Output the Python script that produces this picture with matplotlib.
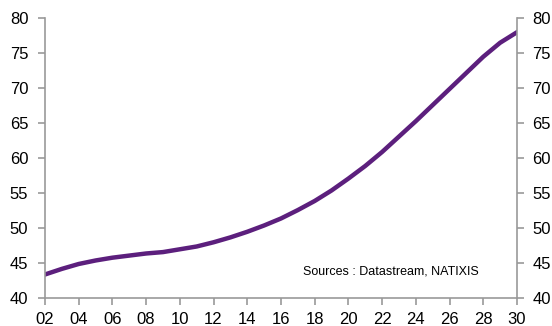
import matplotlib.pyplot as plt

plt.rcParams['font.family'] = ['Liberation Sans', 'DejaVu Sans']

years = list(range(2002, 2031))
values = [43.4, 44.2, 44.9, 45.4, 45.8, 46.1, 46.4, 46.6, 47.0, 47.4,
          48.0, 48.7, 49.5, 50.4, 51.4, 52.6, 53.9, 55.4, 57.1, 58.9,
          60.9, 63.1, 65.3, 67.6, 69.9, 72.2, 74.5, 76.5, 78.0]
xticks = list(range(2002, 2031, 2))
xlabels = ['%02d' % (y % 100) for y in xticks]
yticks = list(range(40, 81, 5))

fig = plt.figure(figsize=(5.52, 3.26), dpi=100)
ax = fig.add_axes([0.0815, 0.085, 0.855, 0.859])
ax.plot(years, values, color='#5c1f7d', lw=3.2)

ax.set_xlim(2002, 2030)
ax.set_ylim(40, 80)
ax.set_xticks(xticks)
ax.set_xticklabels(xlabels)
ax.set_yticks(yticks)

ax2 = ax.twinx()
ax2.set_ylim(40, 80)
ax2.set_yticks(yticks)

for a in (ax, ax2):
    a.spines['top'].set_visible(False)
    for s in ('left', 'right', 'bottom'):
        a.spines[s].set_color('#999999')
        a.spines[s].set_linewidth(1.2)
    a.tick_params(colors='#999999', labelcolor='black', labelsize=12,
                  length=5, width=1.2, direction='out')
ax.spines['right'].set_visible(False)
ax2.spines['left'].set_visible(False)
ax2.spines['bottom'].set_visible(False)
ax.tick_params(axis='y', pad=7)
ax2.tick_params(axis='y', pad=6)
ax.tick_params(axis='x', pad=5)

ax.text(0.92, 0.095, 'Sources : Datastream, NATIXIS', transform=ax.transAxes,
        ha='right', va='center', fontsize=9)

fig.savefig('out.png', dpi=100)
